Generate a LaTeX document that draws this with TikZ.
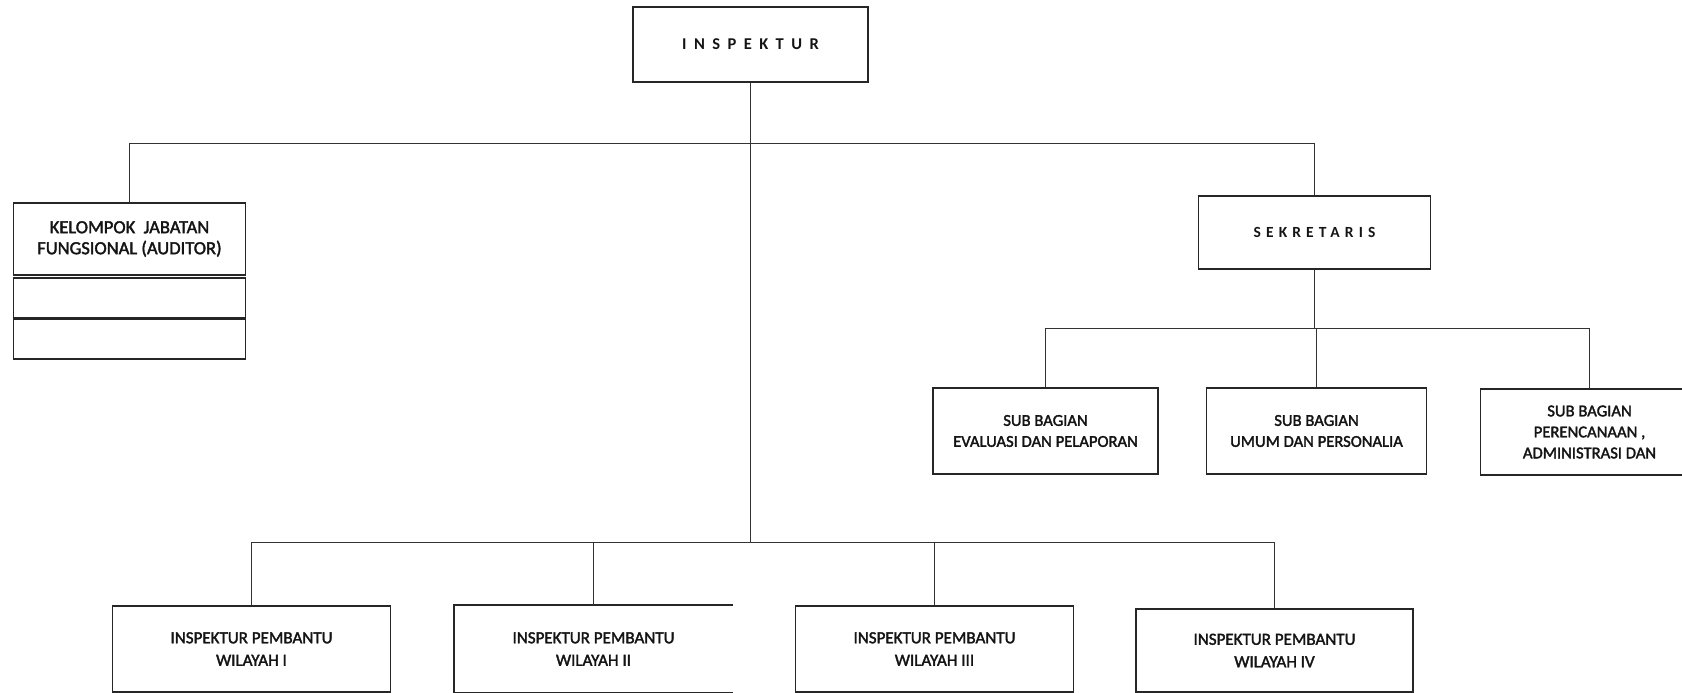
\documentclass[tikz,border=0pt]{standalone}
\usepackage{fontspec}
\setmainfont{Carlito}
\newfontfamily\boxfont[FakeBold=2]{Carlito}
\newfontfamily\headfont[LetterSpace=45]{Carlito Bold}
\newfontfamily\sekfont[LetterSpace=33]{Carlito Bold}
\begin{document}
\begin{tikzpicture}[x=1bp,y=-1bp,
  ink/.style={draw=black!85, line width=1.8bp},
  link/.style={draw=black!80, line width=1.7bp},
  box/.style={ink, rectangle, inner sep=0pt, align=center, text=black!92},
  headbox/.style={box, font=\headfont\fontsize{16.5bp}{19bp}\selectfont},
  sekbox/.style={box, font=\sekfont\fontsize{15.5bp}{19bp}\selectfont},
  groupbox/.style={box, font=\boxfont\fontsize{18.5bp}{21bp}\selectfont},
  subbox/.style={box, font=\boxfont\fontsize{16.6bp}{21bp}\selectfont},
  unitbox/.style={box, font=\boxfont\fontsize{17bp}{22.5bp}\selectfont}
]
\useasboundingbox (0,0) rectangle (1682,693);

% head of the office
\node[headbox, minimum width=235bp, minimum height=75bp] (insp) at (750.5,44.5) {INSPEKTUR};

% functional group with two empty rows below
\node[groupbox, minimum width=232bp, minimum height=72bp] (kel) at (129.5,239)
  {KELOMPOK\ \ JABATAN\\FUNGSIONAL (AUDITOR)};
\node[box, minimum width=232bp, minimum height=40bp] (kel2) at (129.5,298) {};
\node[box, minimum width=232bp, minimum height=40bp] (kel3) at (129.5,339) {};

% secretariat and its sub-divisions
\node[sekbox, minimum width=232bp, minimum height=73bp] (sek) at (1314.5,232.5) {SEKRETARIS};
\node[subbox, minimum width=225bp, minimum height=86bp] (s1) at (1045.5,431)
  {SUB BAGIAN\\EVALUASI DAN PELAPORAN};
\node[subbox, minimum width=220bp, minimum height=86bp] (s2) at (1316.5,431)
  {SUB BAGIAN\\UMUM DAN PERSONALIA};
\node[subbox, minimum width=218bp, minimum height=86bp] (s3) at (1589.5,432)
  {SUB BAGIAN\\PERENCANAAN ,\\ADMINISTRASI DAN};

% regional assistant inspectors
\node[unitbox, minimum width=278bp, minimum height=86bp] (b1) at (251.5,649)
  {INSPEKTUR PEMBANTU\\WILAYAH I};
\node[unitbox, draw=none, minimum width=277bp, minimum height=86bp] (b2) at (593.5,649)
  {INSPEKTUR PEMBANTU\\WILAYAH II};
\draw[ink] (b2.north east) -- (b2.north west) -- (b2.south west) -- (b2.south east);
\node[unitbox, minimum width=278bp, minimum height=86bp] (b3) at (934.5,649)
  {INSPEKTUR PEMBANTU\\WILAYAH III};
\node[unitbox, minimum width=277bp, minimum height=83bp] (b4) at (1274.5,650.5)
  {INSPEKTUR PEMBANTU\\WILAYAH IV};

% connectors
\coordinate (hubtop) at (750.5,143.5);
\coordinate (hubsek) at (1314.5,328.5);
\coordinate (hubbot) at (750.5,542.5);

\draw[link] (kel.north) |- (hubtop) -| (sek.north);
\draw[link] (insp.south) -- (hubbot);
\draw[link] (sek.south) -- (hubsek);
\draw[link] (s1.north) |- (hubsek) -| (s3.north);
\draw[link] (s2.north) -- (s2.north |- hubsek);
\draw[link] (b1.north) |- (hubbot) -| (b4.north);
\draw[link] (b2.north) -- (b2.north |- hubbot);
\draw[link] (b3.north) -- (b3.north |- hubbot);
\end{tikzpicture}
\end{document}
